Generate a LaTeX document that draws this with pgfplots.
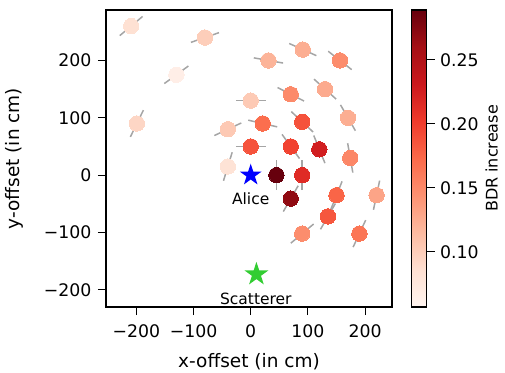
\documentclass[border=0pt]{standalone}
\usepackage{pgfplots}
\usepackage{pgfplotstable}
\pgfplotsset{compat=1.18}
\usepackage{fontspec}
\setmainfont{DejaVu Sans}
\pgfdeclareplotmark{fstar}{%
  \pgfpathmoveto{\pgfpointpolar{90}{\pgfplotmarksize}}%
  \pgfpathlineto{\pgfpointpolar{126}{0.382*\pgfplotmarksize}}%
  \pgfpathlineto{\pgfpointpolar{162}{\pgfplotmarksize}}%
  \pgfpathlineto{\pgfpointpolar{198}{0.382*\pgfplotmarksize}}%
  \pgfpathlineto{\pgfpointpolar{234}{\pgfplotmarksize}}%
  \pgfpathlineto{\pgfpointpolar{270}{0.382*\pgfplotmarksize}}%
  \pgfpathlineto{\pgfpointpolar{306}{\pgfplotmarksize}}%
  \pgfpathlineto{\pgfpointpolar{342}{0.382*\pgfplotmarksize}}%
  \pgfpathlineto{\pgfpointpolar{18}{\pgfplotmarksize}}%
  \pgfpathlineto{\pgfpointpolar{54}{0.382*\pgfplotmarksize}}%
  \pgfpathclose\pgfusepathqfill}
\definecolor{segcol}{RGB}{165,165,165}
\definecolor{alicecol}{RGB}{0,0,255}
\definecolor{scatcol}{RGB}{50,205,50}
\pgfplotstableread{
x y a c
-209 260 40 0.085
-80 240 19 0.100
-130 175 36 0.066
-199 90 64 0.094
-40 80 25 0.104
21 90 -13 0.170
90 93 -43 0.188
170 100 -60 0.124
0 50 0 0.187
70 50 -54 0.198
120 45 -68 0.226
174 30 -80 0.152
-40 15 73 0.082
45 0 90 0.289
90 0 90 0.215
70 -41 60 0.270
150 -35 68 0.176
220 -35 78 0.131
135 -72 60 0.185
90 -102 40 0.148
190 -102 65 0.164
31 200 -10 0.120
91 219 -24 0.124
156 200 -38 0.148
70 141 -27 0.150
130 150 -42 0.127
0 130 0 0.103
}\pts
\begin{document}
\begin{tikzpicture}
\useasboundingbox (-106bp,-66bp) rectangle (399bp,307bp);
\begin{axis}[
  at={(0,0)}, anchor=south west,
  scale only axis, width=286bp, height=297bp,
  xmin=-253, xmax=247, ymin=-230, ymax=288,
  axis line style={line width=1.3bp, black},
  tick align=outside, xtick pos=left, ytick pos=left,
  major tick length=8bp,
  every tick/.style={black, line width=1.1bp},
  xtick={-200,-100,0,100,200},
  xticklabels={−200,−100,0,100,200},
  ytick={-200,-100,0,100,200},
  yticklabels={−200,−100,0,100,200},
  ticklabel style={font=\fontsize{17.3bp}{20bp}\selectfont},
  xticklabel style={yshift=-6bp},
  yticklabel style={xshift=-3bp},
  xlabel={x-offset (in cm)}, ylabel={y-offset (in cm)},
  label style={font=\fontsize{18.5bp}{22bp}\selectfont},
  xlabel style={yshift=-9bp},
  ylabel style={yshift=14bp},
  colormap={mreds}{rgb255=(255,245,240) rgb255=(254,224,210) rgb255=(252,187,161) rgb255=(252,146,114) rgb255=(251,106,74) rgb255=(239,59,44) rgb255=(203,24,29) rgb255=(165,15,21) rgb255=(103,0,13)},
  point meta min=0.057, point meta max=0.289,
  colorbar,
  colorbar style={
    at={(parent axis.north east)}, anchor=north west, xshift=11bp,
    scale only axis, width=15bp, height=297bp,
    axis line style={line width=1.3bp, black},
    ytick={0.10,0.15,0.20,0.25},
    yticklabels={0.10,0.15,0.20,0.25},
    tick align=outside, ytick pos=right, yticklabel pos=right,
    major tick length=8bp,
    every tick/.style={black, line width=1.1bp},
    ticklabel style={font=\fontsize{17.3bp}{20bp}\selectfont},
    yticklabel style={xshift=2bp},
    ylabel={BDR increase},
    label style={font=\fontsize{16bp}{19bp}\selectfont},
  },
]
\addplot[draw=segcol, line width=1.5bp,
  quiver={u={52*cos(\thisrow{a})}, v={52*sin(\thisrow{a})}}]
  table[x expr={\thisrow{x}-26*cos(\thisrow{a})}, y expr={\thisrow{y}-26*sin(\thisrow{a})}] {\pts};
\addplot[scatter, only marks, mark=*, mark size=7.7bp, scatter src=explicit,
  scatter/use mapped color={draw=mapped color, fill=mapped color}, mark options={line width=0pt}]
  table[x=x, y=y, meta=c] {\pts};
\addplot[only marks, mark=fstar, mark size=11.5bp, color=alicecol] coordinates {(0,0)};
\addplot[only marks, mark=fstar, mark size=12.5bp, color=scatcol] coordinates {(10,-173)};
\node[font=\fontsize{15.5bp}{18bp}\selectfont] at (axis cs:0,-41) {Alice};
\node[font=\fontsize{15.5bp}{18bp}\selectfont] at (axis cs:9,-215) {Scatterer};
\end{axis}
\end{tikzpicture}
\end{document}
